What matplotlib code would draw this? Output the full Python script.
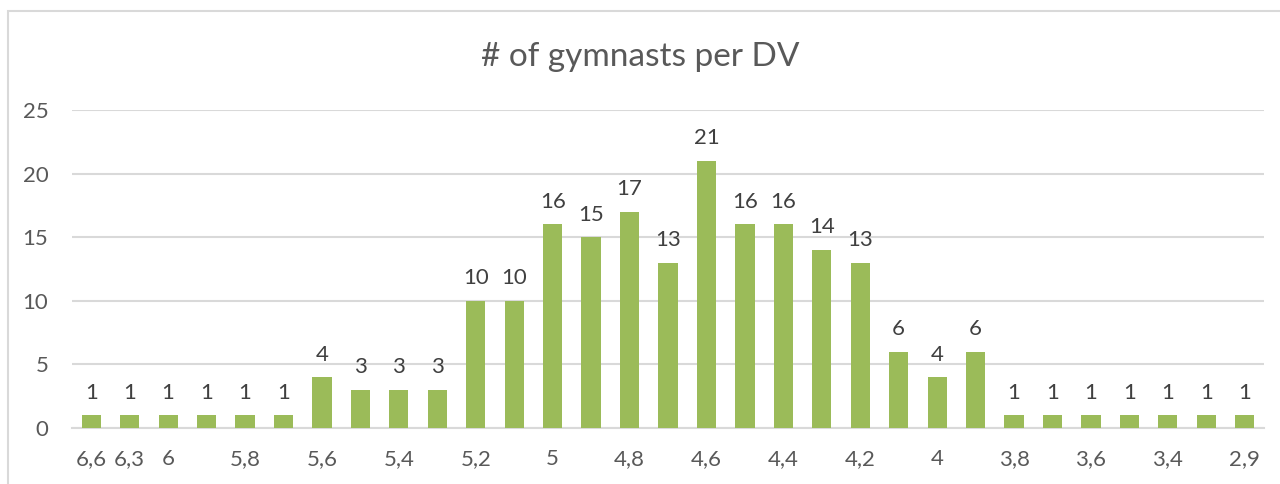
import matplotlib.pyplot as plt
from matplotlib.patches import Rectangle

# DV values (x categories) and number of gymnasts
dv_labels = ["6,6", "6,3", "6", "", "5,8", "", "5,6", "", "5,4", "", "5,2", "",
             "5", "", "4,8", "", "4,6", "", "4,4", "", "4,2", "", "4", "",
             "3,8", "", "3,6", "", "3,4", "", "2,9"]
counts = [1, 1, 1, 1, 1, 1, 4, 3, 3, 3, 10, 10, 16, 15, 17, 13, 21, 16, 16, 14,
          13, 6, 4, 6, 1, 1, 1, 1, 1, 1, 1]

plt.rcParams["font.family"] = ["Lato", "DejaVu Sans"]
text_col = "#595959"
grid_col = "#D9D9D9"

fig = plt.figure(figsize=(12.8, 4.84), dpi=100)
ax = fig.add_axes([72 / 1280, 1 - 428 / 484, (1264 - 72) / 1280, (428 - 110) / 484])

# chart frame (partly cut off like in the screenshot)
fig.patches.append(Rectangle((8 / 1280, -0.1), 1.1, 1 - 11 / 484 + 0.1,
                             transform=fig.transFigure, fill=False,
                             edgecolor=grid_col, linewidth=1.5))

x = range(len(counts))
bars = ax.bar(x, counts, width=0.5, color="#9BBB59", zorder=3)
ax.bar_label(bars, padding=9, fontsize=16, color="#404040")

ax.set_xlim(-0.5, len(counts) - 0.5)
ax.set_ylim(0, 25)
ax.set_yticks(range(0, 26, 5))
ax.set_xticks(list(x))
ax.set_xticklabels(dv_labels)
ax.tick_params(axis="both", length=0, labelsize=16, labelcolor=text_col)
ax.tick_params(axis="x", pad=15)
ax.tick_params(axis="y", pad=17)
ax.grid(axis="y", color=grid_col, linewidth=1.5, zorder=0)
for s in ["top", "right", "left"]:
    ax.spines[s].set_visible(False)
ax.spines["bottom"].set_color(grid_col)
ax.spines["bottom"].set_linewidth(1.5)

fig.text(0.5, 1 - 57 / 484, "# of gymnasts per DV", ha="center", va="center",
         fontsize=24, color=text_col)

fig.savefig("out.png", dpi=100)
